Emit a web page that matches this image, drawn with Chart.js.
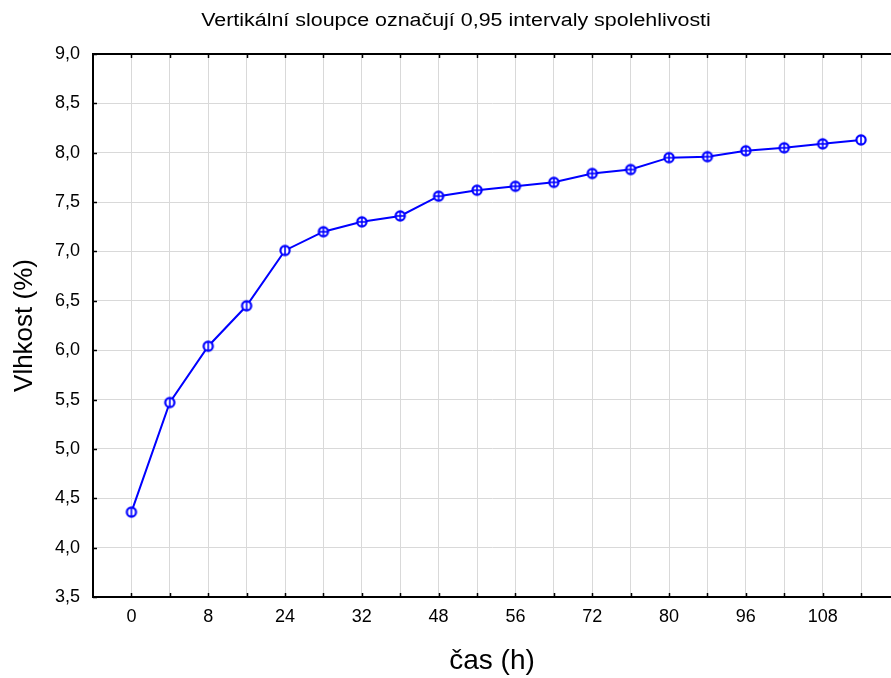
<!DOCTYPE html>
<html>
<head>
<meta charset="utf-8">
<script src="https://cdn.jsdelivr.net/npm/chart.js@4.4.1/dist/chart.umd.min.js"></script>
<style>
  html, body { margin: 0; padding: 0; background: #ffffff; overflow: hidden; }
  #wrap { position: relative; width: 891px; height: 678px; }
</style>
</head>
<body>
<div id="wrap"><canvas id="c"></canvas></div>
<script>
// ---- data ----
const chartTitle = 'Vertikální sloupce označují 0,95 intervaly spolehlivosti';
const xAxisTitle = 'čas (h)';
const yAxisTitle = 'Vlhkost (%)';
// labelled categories (every second measurement point carries a label)
const xTickLabels = ['0', '8', '24', '32', '48', '56', '72', '80', '96', '108'];
const yTickLabels = ['3,5', '4,0', '4,5', '5,0', '5,5', '6,0', '6,5', '7,0', '7,5', '8,0', '8,5', '9,0'];
// moisture means, one per measurement point (20 points)
const moisture = [4.36, 5.47, 6.04, 6.45, 7.01, 7.20, 7.30, 7.36, 7.56, 7.62,
                  7.66, 7.70, 7.79, 7.83, 7.95, 7.96, 8.02, 8.05, 8.09, 8.13];

// ---- marker images (circle with CI bar) ----
function makeMarker(withCross) {
  const c = document.createElement('canvas');
  c.width = 14; c.height = 14;
  const g = c.getContext('2d');
  g.strokeStyle = '#0000ff';
  g.fillStyle = '#ffffff';
  g.lineWidth = 2.2;
  g.beginPath(); g.arc(7, 7, 4.6, 0, Math.PI * 2); g.fill(); g.stroke();
  g.lineWidth = 1.6;
  g.beginPath(); g.moveTo(7, 2.5); g.lineTo(7, 11.5); g.stroke();
  if (withCross) { g.beginPath(); g.moveTo(2.5, 7); g.lineTo(11.5, 7); g.stroke(); }
  return c;
}
const mPhi = makeMarker(false), mPlus = makeMarker(true);

const points = moisture.map((v, i) => ({ x: i, y: v }));
const styles = moisture.map((v, i) => (i < 5 || i === moisture.length - 1) ? mPhi : mPlus);

Chart.defaults.font.family = "'Liberation Sans', Arial, sans-serif";
Chart.defaults.color = '#000000';

const decor = {
  id: 'decor',
  afterDraw(chart) {
    const { ctx, chartArea: a, scales: { x, y } } = chart;
    ctx.save();
    // top frame line
    ctx.strokeStyle = '#000000';
    ctx.lineWidth = 2;
    ctx.beginPath(); ctx.moveTo(a.left - 1, a.top); ctx.lineTo(a.right, a.top); ctx.stroke();
    // inside tick marks
    ctx.lineWidth = 1.5;
    ctx.beginPath();
    for (let i = 0; i < moisture.length; i++) {
      const px = Math.round(x.getPixelForValue(i)) + 0.5;
      ctx.moveTo(px, a.bottom); ctx.lineTo(px, a.bottom - 4);
      ctx.moveTo(px, a.top); ctx.lineTo(px, a.top + 4);
    }
    y.ticks.forEach(t => {
      const py = Math.round(y.getPixelForValue(t.value)) + 0.5;
      ctx.moveTo(a.left, py); ctx.lineTo(a.left + 4, py);
    });
    ctx.stroke();
    // chart title (stretched like the original)
    ctx.fillStyle = '#000000';
    ctx.font = "18px 'Liberation Sans', Arial, sans-serif";
    ctx.textAlign = 'center';
    ctx.textBaseline = 'middle';
    ctx.translate(456, 21);
    ctx.scale(1.19, 1);
    ctx.fillText(chartTitle, 0, 0);
    ctx.restore();
  }
};

new Chart(document.getElementById('c'), {
  type: 'line',
  data: {
    datasets: [{
      data: points,
      borderColor: '#0000ff',
      borderWidth: 2,
      tension: 0,
      pointStyle: styles,
      pointRadius: 5,
      fill: false
    }]
  },
  options: {
    responsive: true,
    maintainAspectRatio: false,
    animation: false,
    layout: { autoPadding: false, padding: { top: 54, right: 0, left: 0, bottom: 0 } },
    plugins: { legend: { display: false }, tooltip: { enabled: false }, title: { display: false } },
    scales: {
      x: {
        type: 'linear',
        min: -1,
        max: 19.78,
        afterFit(s) { s.height = 81; },
        ticks: {
          stepSize: 1,
          includeBounds: false,
          autoSkip: false,
          maxRotation: 0,
          padding: 9,
          font: { size: 18 },
          callback: (v) => (Number.isInteger(v) && v >= 0 && v % 2 === 0) ? xTickLabels[v / 2] : ''
        },
        grid: { color: '#d9d9d9', lineWidth: 1, drawTicks: false },
        border: { color: '#000000', width: 2 },
        title: { display: true, text: xAxisTitle, font: { size: 28 }, padding: { top: 0, bottom: 0 } }
      },
      y: {
        min: 3.5,
        max: 9,
        afterFit(s) { s.width = 93; },
        ticks: {
          stepSize: 0.5,
          padding: 13,
          font: { size: 18 },
          callback: (v, i) => yTickLabels[i]
        },
        grid: { color: '#d9d9d9', lineWidth: 1, drawTicks: false },
        border: { color: '#000000', width: 2 },
        title: { display: true, text: yAxisTitle, font: { size: 26 }, padding: { top: 9, bottom: 0 } }
      }
    }
  },
  plugins: [decor]
});
</script>
</body>
</html>
